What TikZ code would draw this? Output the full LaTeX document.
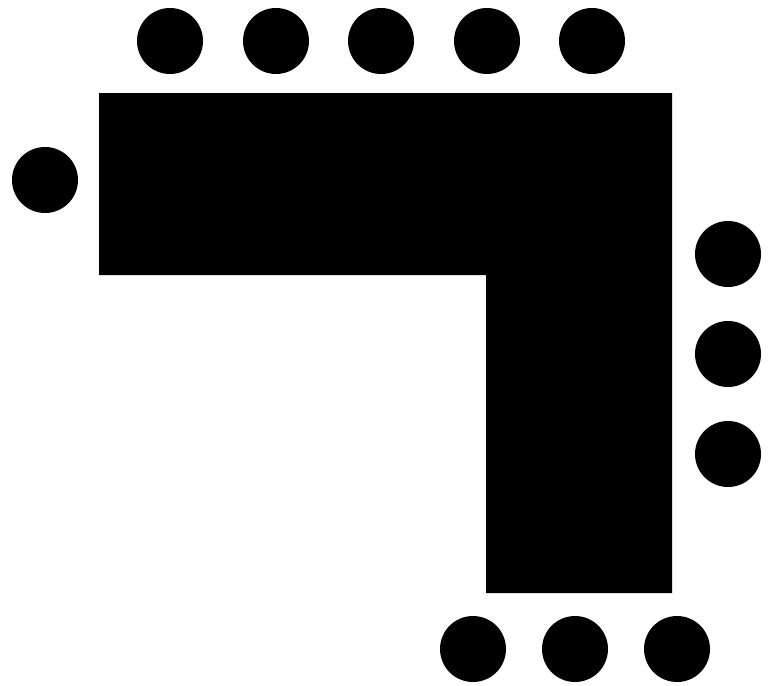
\documentclass[tikz,border=0pt]{standalone}
\usepackage{tikz}
\tikzset{
seat/.style={circle, fill=black, minimum size=66pt, inner sep=0pt}, % one chair
desk/.style={fill=black}, % the L shaped table
}

\begin{document}
\begin{tikzpicture}[x=1pt, y=-1pt]
                \useasboundingbox (0,0) rectangle (775,685);
                % table
                \fill[desk] (99,93) -- (672,93) -- (672,593) -- (486,593) -- (486,275) -- (99,275) -- cycle;
                % chairs along the top
                \foreach \x [count=\i] in {170,276,381,487,592}
                    \node[seat] (top\i) at (\x,41) {};
                % chair at the left end
                \node[seat] (left1) at (45,180) {};
                % chairs on the right
                \foreach \y [count=\i] in {254,354,454}
                    \node[seat] (right\i) at (728,\y) {};
                % chairs along the bottom
                \foreach \x [count=\i] in {473,575,677}
                    \node[seat] (bottom\i) at (\x,649) {};
\end{tikzpicture}
\end{document}
